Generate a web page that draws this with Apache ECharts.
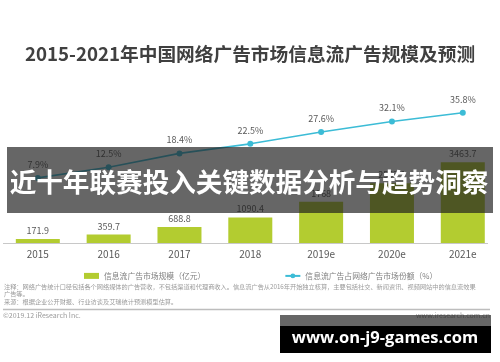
<!DOCTYPE html>
<html><head><meta charset="utf-8">
<script src="https://cdn.jsdelivr.net/npm/echarts@6/dist/echarts.min.js"></script>
<style>html,body{margin:0;padding:0;background:#fff}#c{width:500px;height:362px}</style>
</head><body><div id="c"></div>
<script>
var categories = ['2015','2016','2017','2018','2019e','2020e','2021e'];
var scaleValues = [171.9, 359.7, 688.8, 1090.4, 1768.0, 2557.3, 3463.7];
var shareValues = [7.9, 12.5, 18.4, 22.5, 27.6, 32.1, 35.8];
var barName = '信息流广告市场规模（亿元）';
var lineName = '信息流广告占网络广告市场份额（%）';
var titleText = '2015-2021年中国网络广告市场信息流广告规模及预测';
var noteText1 = '注释：网络广告统计口径包括各个网络媒体的广告营收，不包括渠道和代理商收入。信息流广告从2016年开始独立核算，主要包括社交、新闻资讯、视频网站中的信息流效果';
var noteText2 = '广告等。';
var sourceText = '来源：根据企业公开财报、行业访谈及艾瑞统计预测模型估算。';
var copyText = '©2019.12 iResearch Inc.';
var siteText = 'www.iresearch.com.cn';
var bannerText = '近十年联赛投入关键数据分析与趋势洞察';
var urlText = 'www.on-j9-games.com';

var FF = '"Noto Sans CJK SC","Noto Sans",sans-serif';
var chart = echarts.init(document.getElementById('c'), null, {renderer:'canvas'});
chart.setOption({
  backgroundColor:'#fff',
  animation:false,
  textStyle:{fontFamily:FF},
  title:{text:titleText,left:'center',top:40,textStyle:{fontSize:18.7,fontWeight:'bold',color:'#404040',fontFamily:FF}},
  legend:{top:267,left:79,itemGap:79,textStyle:{fontSize:7.8,color:'#7f7f7f',fontFamily:FF},
    data:[{name:barName,icon:'rect',itemStyle:{color:'#b3cc30'}},{name:lineName}],
    itemWidth:15,itemHeight:6},
  grid:{left:2.4,right:1.8,top:103,bottom:119,containLabel:false},
  xAxis:{type:'category',data:categories,axisLine:{show:false},axisTick:{show:false},
    axisLabel:{color:'#595959',fontSize:10,margin:6,fontFamily:FF}},
  yAxis:[{type:'value',min:0,max:6000,show:false,splitLine:{show:false}},
         {type:'value',min:-20,max:40,show:false,splitLine:{show:false}}],
  series:[
    {name:barName,type:'bar',data:scaleValues,barWidth:44,itemStyle:{color:'#b3cc30'},
     label:{show:true,position:'top',distance:4,color:'#595959',fontSize:9,fontFamily:FF}},
    {name:lineName,type:'line',yAxisIndex:1,data:shareValues,symbol:'circle',symbolSize:6,
     lineStyle:{color:'#3cbcd6',width:1.6},itemStyle:{color:'#3cbcd6'},
     label:{show:true,position:'top',distance:6,color:'#595959',fontSize:9,formatter:function(p){return p.value.toFixed(1)+'%';},fontFamily:FF}}
  ],
  graphic:[
    {type:'line',shape:{x1:3,y1:243.5,x2:488,y2:243.5},style:{stroke:'#c8c8c8',lineWidth:1}},
    {type:'text',left:4,top:284,style:{text:noteText1,fontSize:6.2,fill:'#9a9a9a',fontFamily:FF}},
    {type:'text',left:4,top:291,style:{text:noteText2,fontSize:6.2,fill:'#9a9a9a',fontFamily:FF}},
    {type:'text',left:4,top:299,style:{text:sourceText,fontSize:6.2,fill:'#9a9a9a',fontFamily:FF}},
    {type:'line',shape:{x1:3,y1:309.5,x2:490,y2:309.5},style:{stroke:'#bdbdbd',lineWidth:1.5}},
    {type:'text',left:3,top:312,style:{text:copyText,fontSize:7,fill:'#9a9a9a',fontFamily:FF}},
    {type:'text',right:10,top:312,style:{text:siteText,fontSize:7,fill:'#9a9a9a',fontFamily:FF}},
    {type:'rect',shape:{x:7,y:147,width:486,height:66},style:{fill:'rgba(30,30,30,0.68)'},z:100},
    {type:'text',x:249,y:182,z:101,style:{text:bannerText,fill:'#fff',fontSize:26.6,fontWeight:'bold',fontFamily:FF,align:'center',verticalAlign:'middle'}},
    {type:'rect',shape:{x:280,y:315,width:211,height:11},style:{fill:'rgba(30,30,30,0.68)'},z:100},
    {type:'rect',shape:{x:280,y:326,width:211,height:27},style:{fill:'#000'},z:100},
    {type:'text',x:385,y:338,z:101,style:{text:urlText,fill:'#fff',fontSize:16.5,fontWeight:'bold',fontFamily:'"Open Sans",sans-serif',align:'center',verticalAlign:'middle'}}
  ]
});
</script></body></html>
